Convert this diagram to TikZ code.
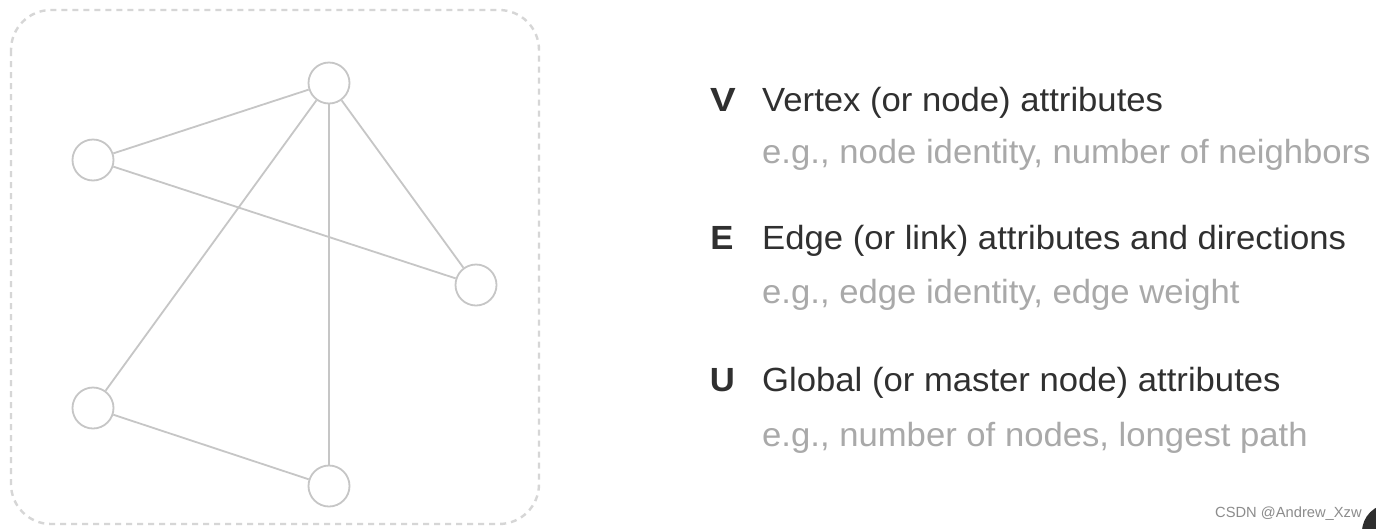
\documentclass[tikz,border=0pt]{standalone}
\usepackage{fontspec}
\setmainfont{Liberation Sans}
\definecolor{edgegray}{HTML}{C6C6C6}
\definecolor{boxgray}{HTML}{D6D6D6}
\definecolor{maintext}{HTML}{303030}
\definecolor{subtext}{HTML}{A9A9A9}
\definecolor{marktext}{HTML}{8C8C8C}
\definecolor{blob}{HTML}{2E2E2E}
\newcommand\mywide[1]{\scalebox{1.035}[1]{#1}}
\tikzset{
  vert/.style={circle, draw=edgegray, line width=1.8pt, fill=white, minimum size=41pt, inner sep=0pt},
  link/.style={draw=edgegray, line width=1.8pt},
  letter/.style={anchor=base, text=maintext, font=\fontsize{33.5}{38}\selectfont\bfseries, inner sep=0pt},
  headline/.style={anchor=base west, text=maintext, font=\fontsize{33.5}{38}\selectfont, inner sep=0pt},
  subline/.style={anchor=base west, text=subtext, font=\fontsize{33.5}{38}\selectfont, inner sep=0pt},
}
\begin{document}
\begin{tikzpicture}[x=1pt,y=-1pt]
\useasboundingbox (0,0) rectangle (1376,528);
\fill[white] (0,0) rectangle (1376,528);
% dashed frame
\draw[boxgray, line width=2.4pt, dash pattern=on 6pt off 5pt, rounded corners=40pt] (11,10) rectangle (539,524);
% graph
\node[vert] (a) at (329,83) {};
\node[vert] (b) at (93,160) {};
\node[vert] (c) at (476,285) {};
\node[vert] (d) at (93,408) {};
\node[vert] (e) at (329,486) {};
\draw[link] (a) -- (b);
\draw[link] (b) -- (c);
\draw[link] (a) -- (c);
\draw[link] (a) -- (d);
\draw[link] (a) -- (e);
\draw[link] (d) -- (e);
% text
\node[letter] (lv) at (723,111) {\scalebox{1.15}[1]{V}};
\node[headline] (hv) at (762,111) {\mywide{Vertex (or node) attributes}};
\node[subline] (sv) at (762,163) {\mywide{e.g., node identity, number of neighbors}};
\node[letter] (le) at (722,249) {\mywide{E}};
\node[headline] (he) at (762,249) {\mywide{Edge (or link) attributes and directions}};
\node[subline] (se) at (762,303) {\mywide{e.g., edge identity, edge weight}};
\node[letter] (lu) at (722.5,391) {\mywide{U}};
\node[headline] (hu) at (762,391) {\mywide{Global (or master node) attributes}};
\node[subline] (su) at (762,446) {\mywide{e.g., number of nodes, longest path}};
% watermark
\node[anchor=base west, text=marktext, font=\fontsize{14.7}{17}\selectfont, inner sep=0pt] (wm) at (1215,517) {CSDN @Andrew\_Xzw};
\begin{scope}
\clip (0,0) rectangle (1376,528);
\fill[blob] (1390,532) circle (28pt);
\end{scope}
\end{tikzpicture}
\end{document}
